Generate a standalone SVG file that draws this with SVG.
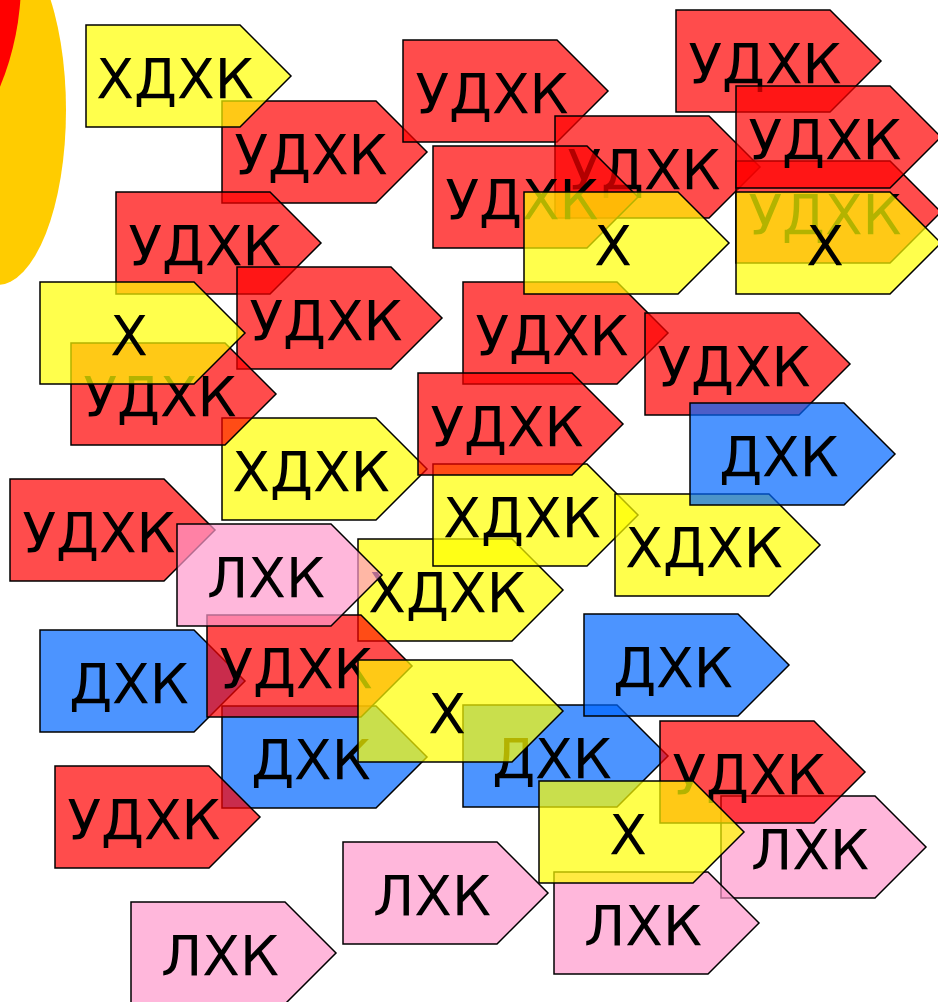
<svg xmlns="http://www.w3.org/2000/svg" xmlns:xlink="http://www.w3.org/1999/xlink" width="938" height="1002" viewBox="0 0 938 1002">
<style>
.s{fill-opacity:.7;stroke:#000;stroke-width:1.5}
.r{fill:#ff0000}.y{fill:#ffff00}.b{fill:#0066ff}.p{fill:#ff99cc}
text{font-family:"DejaVu Sans","Liberation Sans",sans-serif;font-size:55px;text-anchor:middle;fill:#000}
</style>
<defs>
<path id="tag" d="M0,0H154L205,51L154,102H0Z"/>
</defs>
<rect width="938" height="1002" fill="#fff"/>
<g id="sun">
<ellipse cx="-3" cy="110" rx="69" ry="175" fill="#ffcc00"/>
<circle cx="-256" cy="-19" r="277" fill="#ff0000"/>
</g>
<g id="nB" transform="translate(222,101)"><use xlink:href="#tag" href="#tag" class="s r"/><text x="89" y="72.5">УДХК</text></g>
<g id="nA" transform="translate(86,25)"><use xlink:href="#tag" href="#tag" class="s y"/><text x="89" y="72.5">ХДХК</text></g>
<g id="nC" transform="translate(116,192)"><use xlink:href="#tag" href="#tag" class="s r"/><text x="89" y="72.5">УДХК</text></g>
<g id="nE" transform="translate(237,267)"><use xlink:href="#tag" href="#tag" class="s r"/><text x="89" y="72.5">УДХК</text></g>
<g id="nG" transform="translate(222,418)"><use xlink:href="#tag" href="#tag" class="s y"/><text x="89" y="72.5">ХДХК</text></g>
<g id="nF" transform="translate(71,343)"><use xlink:href="#tag" href="#tag" class="s r"/><text x="89" y="72.5">УДХК</text></g>
<g id="nD" transform="translate(40,282)"><use xlink:href="#tag" href="#tag" class="s y"/><text x="89" y="72.5">Х</text></g>
<g id="nK" transform="translate(403,40)"><use xlink:href="#tag" href="#tag" class="s r"/><text x="89" y="72.5">УДХК</text></g>
<g id="nM" transform="translate(555,116)"><use xlink:href="#tag" href="#tag" class="s r"/><text x="89" y="72.5">УДХК</text></g>
<g id="nN" transform="translate(433,146)"><use xlink:href="#tag" href="#tag" class="s r"/><text x="89" y="72.5">УДХК</text></g>
<g id="nL" transform="translate(676,10)"><use xlink:href="#tag" href="#tag" class="s r"/><text x="89" y="72.5">УДХК</text></g>
<g id="nP" transform="translate(736,161)"><use xlink:href="#tag" href="#tag" class="s r"/><text x="89" y="72.5">УДХК</text></g>
<g id="nO" transform="translate(736,86)"><use xlink:href="#tag" href="#tag" class="s r"/><text x="89" y="72.5">УДХК</text></g>
<g id="nR" transform="translate(736,192)"><use xlink:href="#tag" href="#tag" class="s y"/><text x="89" y="72.5">Х</text></g>
<g id="nS" transform="translate(463,282)"><use xlink:href="#tag" href="#tag" class="s r"/><text x="89" y="72.5">УДХК</text></g>
<g id="nQ" transform="translate(524,192)"><use xlink:href="#tag" href="#tag" class="s y"/><text x="89" y="72.5">Х</text></g>
<g id="nT" transform="translate(645,313)"><use xlink:href="#tag" href="#tag" class="s r"/><text x="89" y="72.5">УДХК</text></g>
<g id="nJ" transform="translate(358,539)"><use xlink:href="#tag" href="#tag" class="s y"/><text x="89" y="72.5">ХДХК</text></g>
<g id="nW" transform="translate(433,464)"><use xlink:href="#tag" href="#tag" class="s y"/><text x="89" y="72.5">ХДХК</text></g>
<g id="nU" transform="translate(418,373)"><use xlink:href="#tag" href="#tag" class="s r"/><text x="89" y="72.5">УДХК</text></g>
<g id="nX" transform="translate(615,494)"><use xlink:href="#tag" href="#tag" class="s y"/><text x="89" y="72.5">ХДХК</text></g>
<g id="nV" transform="translate(690,403)"><use xlink:href="#tag" href="#tag" class="s b"/><text x="89" y="72.5">ДХК</text></g>
<g id="nH" transform="translate(10,479)"><use xlink:href="#tag" href="#tag" class="s r"/><text x="89" y="72.5">УДХК</text></g>
<g id="nY" transform="translate(40,630)"><use xlink:href="#tag" href="#tag" class="s b"/><text x="89" y="72.5">ДХК</text></g>
<g id="nAA" transform="translate(222,706)"><use xlink:href="#tag" href="#tag" class="s b"/><text x="89" y="72.5">ДХК</text></g>
<g id="nAG" transform="translate(463,705)"><use xlink:href="#tag" href="#tag" class="s b"/><text x="89" y="72.5">ДХК</text></g>
<g id="nAF" transform="translate(584,614)"><use xlink:href="#tag" href="#tag" class="s b"/><text x="89" y="72.5">ДХК</text></g>
<g id="nZ" transform="translate(207,615)"><use xlink:href="#tag" href="#tag" class="s r"/><text x="89" y="72.5">УДХК</text></g>
<g id="nI" transform="translate(177,524)"><use xlink:href="#tag" href="#tag" class="s p"/><text x="89" y="72.5">ЛХК</text></g>
<g id="nAB" transform="translate(358,660)"><use xlink:href="#tag" href="#tag" class="s y"/><text x="89" y="72.5">Х</text></g>
<g id="nAJ" transform="translate(721,796)"><use xlink:href="#tag" href="#tag" class="s p"/><text x="89" y="72.5">ЛХК</text></g>
<g id="nAH" transform="translate(660,721)"><use xlink:href="#tag" href="#tag" class="s r"/><text x="89" y="72.5">УДХК</text></g>
<g id="nAK" transform="translate(554,872)"><use xlink:href="#tag" href="#tag" class="s p"/><text x="89" y="72.5">ЛХК</text></g>
<g id="nAI" transform="translate(539,781)"><use xlink:href="#tag" href="#tag" class="s y"/><text x="89" y="72.5">Х</text></g>
<g id="nAC" transform="translate(55,766)"><use xlink:href="#tag" href="#tag" class="s r"/><text x="89" y="72.5">УДХК</text></g>
<g id="nAD" transform="translate(131,902)"><use xlink:href="#tag" href="#tag" class="s p"/><text x="89" y="72.5">ЛХК</text></g>
<g id="nAE" transform="translate(343,842)"><use xlink:href="#tag" href="#tag" class="s p"/><text x="89" y="72.5">ЛХК</text></g>
</svg>
